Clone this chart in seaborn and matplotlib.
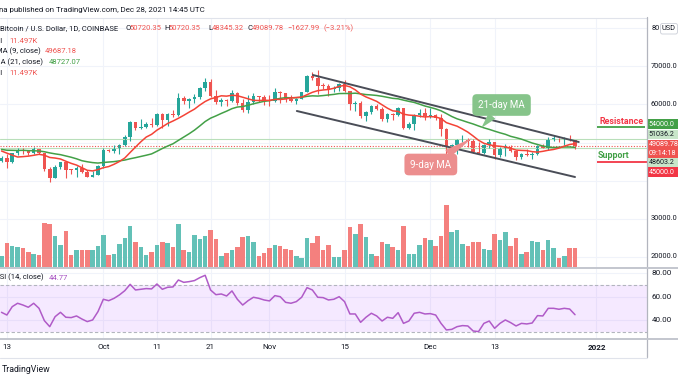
import matplotlib
matplotlib.use("Agg")
import matplotlib.pyplot as plt
from matplotlib.patches import Rectangle, FancyBboxPatch
import numpy as np
import seaborn as sns

sns.set_style("white")
plt.rcParams['font.family'] = ['Roboto', 'DejaVu Sans']

# BTC/USD daily candles, Sep 12 2021 .. Dec 28 2021 (prices in thousands of USD)
opens = [45.17, 46.03, 44.96, 47.11, 48.15, 47.76, 47.30, 48.31, 47.25, 43.01,
         40.72, 43.58, 44.89, 42.83, 42.71, 43.21, 42.17, 41.03, 41.52, 43.79,
         48.14, 47.66, 48.23, 49.25, 51.49, 55.34, 53.80, 53.97, 54.96, 54.68,
         57.49, 56.01, 57.37, 57.35, 61.67, 60.88, 61.53, 62.04, 64.29, 66.00,
         62.20, 60.70, 61.30, 60.86, 63.08, 60.33, 58.45, 60.60, 62.25, 61.85,
         61.30, 61.00, 63.22, 62.93, 61.42, 61.00, 61.50, 63.30, 67.55, 66.95,
         64.90, 64.80, 64.15, 64.40, 65.50, 63.60, 60.10, 60.35, 56.90, 58.10,
         59.70, 58.70, 56.30, 57.55, 57.15, 58.95, 53.70, 54.75, 57.30, 57.80,
         57.00, 57.23, 56.50, 53.60, 49.20, 49.40, 50.60, 50.65, 50.50, 47.60,
         47.15, 49.40, 50.10, 46.70, 48.35, 48.90, 47.65, 46.20, 46.85, 46.70,
         46.90, 48.95, 48.60, 50.85, 50.86, 50.80, 50.82, 50.72]
highs = [46.46, 46.88, 47.25, 48.48, 48.49, 48.15, 48.82, 48.37, 47.35, 43.63,
         44.00, 44.98, 45.00, 42.97, 43.93, 44.35, 42.79, 42.62, 44.10, 48.50,
         48.35, 49.23, 49.50, 51.90, 55.75, 55.34, 56.10, 55.48, 56.56, 57.82,
         57.68, 57.75, 58.55, 62.93, 62.35, 61.74, 62.67, 64.48, 67.00, 66.65,
         63.72, 61.74, 61.47, 63.70, 63.30, 61.50, 62.50, 62.95, 62.35, 62.40,
         62.45, 64.27, 63.52, 63.12, 62.59, 61.58, 63.35, 67.80, 68.53, 69.00,
         65.60, 65.47, 64.95, 65.55, 66.34, 63.60, 60.80, 60.95, 58.40, 59.85,
         60.05, 59.45, 57.85, 57.75, 59.40, 59.15, 55.30, 57.40, 58.85, 59.20,
         59.05, 57.40, 57.60, 53.90, 49.70, 50.90, 51.95, 51.20, 50.80, 50.10,
         49.50, 50.80, 50.20, 48.70, 49.50, 49.45, 48.00, 47.30, 48.35, 47.55,
         49.35, 49.60, 51.40, 51.85, 51.20, 51.40, 52.05, 50.72]
lows = [44.75, 43.37, 44.71, 46.72, 47.07, 46.77, 47.07, 46.87, 42.54, 39.60,
        40.58, 43.09, 40.75, 41.64, 40.80, 42.10, 40.90, 40.80, 41.42, 43.29,
        47.44, 47.13, 46.94, 49.07, 50.40, 53.37, 53.65, 53.71, 54.10, 54.42,
        53.88, 54.30, 56.83, 56.85, 60.15, 58.96, 60.40, 61.33, 63.50, 62.00,
        60.00, 59.70, 59.53, 60.66, 59.85, 58.00, 57.80, 60.20, 60.68, 59.96,
        59.50, 60.65, 60.40, 60.65, 60.72, 60.10, 61.35, 63.30, 66.35, 62.80,
        64.10, 62.30, 63.35, 63.60, 63.40, 58.60, 58.40, 56.50, 55.60, 57.45,
        58.50, 55.60, 55.35, 55.85, 57.00, 53.55, 53.65, 53.30, 56.70, 55.90,
        56.45, 55.85, 51.70, 42.00, 47.10, 47.00, 50.05, 48.70, 47.30, 46.90,
        46.90, 48.65, 45.70, 46.30, 46.55, 47.55, 45.50, 45.60, 46.45, 45.55,
        46.65, 48.45, 48.05, 50.45, 50.20, 49.45, 50.45, 48.35]
closes = [46.03, 44.96, 47.11, 48.15, 47.76, 47.30, 48.31, 47.25, 43.01, 40.72,
          43.58, 44.89, 42.83, 42.71, 43.21, 42.17, 41.03, 41.52, 43.79, 48.14,
          47.66, 48.23, 49.25, 51.49, 55.34, 53.80, 53.97, 54.96, 54.68, 57.49,
          56.01, 57.37, 57.35, 61.67, 60.88, 61.53, 62.04, 64.29, 66.00, 62.20,
          60.70, 61.30, 60.86, 63.08, 60.33, 58.45, 60.60, 62.25, 61.85, 61.30,
          61.00, 63.22, 62.93, 61.42, 61.00, 61.50, 63.30, 67.55, 66.95, 64.90,
          64.80, 64.15, 64.40, 65.50, 63.60, 60.10, 60.35, 56.90, 58.10, 59.70,
          58.70, 56.30, 57.55, 57.15, 58.95, 53.70, 54.75, 57.30, 57.80, 57.00,
          57.23, 56.50, 53.60, 49.20, 49.40, 50.60, 50.65, 50.50, 47.60, 47.15,
          49.40, 50.10, 46.70, 48.35, 48.90, 47.65, 46.20, 46.85, 46.70, 46.90,
          48.95, 48.60, 50.85, 50.86, 50.80, 50.82, 50.72, 49.09]
# volume in thousands of BTC
volume_k = [6.6, 14.8, 12.7, 12.3, 11.9, 9.0, 7.8, 7.4, 27.1, 26.7,
            19.3, 13.5, 22.2, 7.2, 10.3, 10.3, 10.7, 10.3, 12.7, 19.7,
            7.4, 8.2, 13.9, 17.6, 25.4, 15.6, 12.3, 7.4, 9.4, 13.5,
            15.2, 14.8, 12.3, 26.7, 10.3, 9.4, 19.7, 17.2, 18.9, 23.0,
            17.2, 7.0, 8.6, 10.7, 12.3, 18.5, 19.3, 15.6, 7.0, 8.6,
            11.9, 13.5, 13.1, 11.1, 10.7, 6.6, 5.7, 17.6, 14.8, 18.9,
            10.3, 13.5, 6.2, 6.2, 10.7, 24.6, 20.5, 26.3, 18.5, 7.8,
            7.0, 15.6, 13.9, 12.3, 10.7, 25.4, 8.2, 8.2, 13.5, 18.1,
            16.4, 13.1, 19.3, 38.2, 21.3, 22.6, 13.9, 13.1, 15.6, 15.6,
            11.1, 10.7, 20.5, 16.8, 21.3, 12.7, 18.1, 8.2, 9.4, 16.0,
            15.2, 10.7, 16.4, 11.5, 5.7, 7.0, 11.5, 11.497]
ma9 = [47.76, 47.20, 46.68, 46.18, 46.28, 46.41, 46.63, 46.89, 46.65, 46.06,
       45.91, 45.66, 45.07, 44.51, 44.06, 43.37, 42.68, 42.52, 42.86, 43.37,
       43.67, 44.27, 45.00, 45.92, 47.38, 48.80, 50.19, 51.43, 52.15, 53.25,
       54.11, 55.01, 55.66, 56.37, 57.15, 57.99, 58.78, 59.85, 60.79, 61.48,
       61.85, 62.29, 62.20, 62.44, 62.31, 61.91, 61.50, 61.09, 61.05, 61.11,
       61.08, 61.34, 61.33, 61.45, 61.73, 61.83, 61.95, 62.58, 63.21, 63.64,
       63.82, 63.95, 64.28, 64.78, 65.02, 64.66, 63.86, 62.74, 61.99, 61.42,
       60.82, 59.92, 59.03, 58.32, 58.19, 57.45, 57.21, 57.12, 56.91, 56.72,
       56.83, 56.71, 56.31, 55.23, 54.75, 54.29, 53.55, 52.74, 51.70, 50.58,
       49.79, 49.40, 49.12, 49.01, 48.82, 48.48, 48.01, 47.92, 47.87, 47.59,
       47.47, 47.68, 47.96, 48.17, 48.52, 49.04, 49.47, 49.69]
ma21 = [48.19, 47.97, 47.94, 47.90, 47.95, 47.86, 47.83, 47.76, 47.57, 47.26,
        47.01, 46.80, 46.46, 46.12, 45.71, 45.21, 44.93, 44.71, 44.59, 44.74,
        44.86, 44.97, 45.17, 45.38, 45.72, 46.01, 46.33, 46.65, 47.00, 47.69,
        48.42, 49.07, 49.67, 50.56, 51.43, 52.30, 53.25, 54.36, 55.52, 56.40,
        57.00, 57.65, 58.25, 58.91, 59.33, 59.47, 59.80, 60.19, 60.52, 60.84,
        61.00, 61.35, 61.61, 61.80, 61.77, 61.80, 61.89, 62.15, 62.28, 62.22,
        62.35, 62.51, 62.66, 62.88, 62.90, 62.89, 62.98, 62.81, 62.61, 62.51,
        62.38, 62.16, 61.89, 61.62, 61.50, 61.15, 60.83, 60.54, 60.08, 59.60,
        59.24, 58.84, 58.34, 57.62, 56.85, 56.23, 55.78, 55.31, 54.87, 54.35,
        53.86, 53.45, 52.99, 52.55, 52.16, 51.62, 51.27, 50.89, 50.38, 49.87,
        49.48, 49.07, 48.80, 48.67, 48.75, 48.82, 48.82, 48.73]
rsi14 = [46.8, 44.5, 51.6, 54.5, 53.0, 51.1, 54.5, 50.2, 39.7, 34.6,
         43.1, 46.8, 42.6, 42.3, 43.7, 41.1, 38.9, 40.3, 47.4, 57.9,
         56.7, 58.7, 61.6, 65.2, 70.6, 65.8, 66.4, 67.0, 66.7, 70.9,
         66.4, 68.1, 68.4, 74.3, 72.3, 72.9, 73.8, 76.3, 78.3, 65.8,
         61.8, 62.4, 60.7, 65.0, 57.9, 53.0, 56.7, 59.6, 58.7, 57.3,
         56.5, 61.0, 60.1, 55.3, 54.5, 55.9, 59.6, 67.8, 65.8, 59.6,
         59.3, 57.3, 57.9, 60.1, 55.9, 45.4, 45.4, 38.3, 42.6, 46.0,
         43.7, 39.4, 42.6, 41.7, 46.5, 37.4, 39.4, 46.0, 46.8, 45.4,
         45.7, 44.5, 37.4, 31.8, 32.3, 34.6, 35.5, 35.2, 30.9, 30.4,
         37.4, 39.4, 33.2, 37.4, 40.3, 38.0, 35.2, 37.4, 36.9, 37.7,
         44.0, 43.7, 50.2, 50.2, 49.4, 50.2, 49.6, 44.77]

# time axis (day index 0 = Sep 12)
tick_days = [1, 19, 29, 39, 50, 64, 80, 92, 111]
tick_labels = ['13', 'Oct', '11', '21', 'Nov', '15', 'Dec', '13', '2022']
grid_prices = [20000, 30000, 40000, 50000, 60000, 70000, 80000]
scale_prices = [20000, 30000, 60000, 70000]
top_scale_price = 80000
rsi_levels = [40, 60, 80]

# drawings
resistance = 54000.0
support = 45000.0
level_lines = [51036.2, 48603.2]
last_price = 49089.78
level_label_day = 111.1
upper_channel_days = [58.1, 107.7]
upper_channel_prices = [67760, 50130]
lower_channel_days = [55.1, 107.0]
lower_channel_prices = [58290, 40920]
ma21_note_box = (93.3, 59870)
ma21_note_tip = (89.5, 53800)
ma9_note_box = (80.1, 44210)
ma9_note_tip = (87.8, 51180)

DARK = '#131722'
UP = '#26a69a'
DOWN = '#ef5350'
GRID = '#f0f3fa'

days = np.arange(len(closes))
o = np.array(opens) * 1000
h = np.array(highs) * 1000
l = np.array(lows) * 1000
c = np.array(closes) * 1000
up = c >= o
candle_colors = np.where(up, UP, DOWN)
volume_colors = np.where(up, '#63c1b7', '#f4807e')

W, H = 678, 381


def rect(x0, y0, x1, y1):
    return [x0 / W, 1 - y1 / H, (x1 - x0) / W, (y1 - y0) / H]


fig = plt.figure(figsize=(6.78, 3.81), dpi=100)
fig.patch.set_facecolor('white')
axg = fig.add_axes(rect(0, 18, 647, 267))
axv = fig.add_axes(rect(0, 18, 647, 267))
ax = fig.add_axes(rect(0, 18, 647, 267))
axr = fig.add_axes(rect(0, 268, 647, 339))
ov = fig.add_axes([0, 0, 1, 1])

xlim = (-0.28, 120.43)
price_lim = (17237, 82763)
for a in (axg, axv, ax, axr):
    a.set_xlim(*xlim)
    for s in a.spines.values():
        s.set_visible(False)
    a.tick_params(length=0, labelleft=False, labelbottom=False)

# background grid
axg.set_ylim(*price_lim)
axg.set_xticks(tick_days)
axg.set_yticks(grid_prices)
axg.grid(True, color=GRID, lw=0.8)

# volume overlay
axv.patch.set_visible(False)
axv.set_ylim(0, 153.2)
axv.set_xticks([])
axv.set_yticks([])
axv.bar(days, volume_k, width=0.85, color=volume_colors, linewidth=0)

# candles + moving averages
ax.patch.set_visible(False)
ax.set_ylim(*price_lim)
ax.set_xticks([])
ax.set_yticks([])
for lv in level_lines:
    ax.axhline(lv, color='#b9dfba', lw=0.8)
ax.axhline(last_price, color=DOWN, lw=0.8, ls=(0, (1, 1.5)))
ax.vlines(days, l, h, colors=candle_colors, lw=0.8)
ax.bar(days, np.maximum(np.abs(c - o), 250), bottom=np.minimum(o, c),
       width=0.66, color=candle_colors, linewidth=0)
sns.lineplot(x=days, y=np.array(ma21) * 1000, ax=ax, color='#43a047', linewidth=1.1)
sns.lineplot(x=days, y=np.array(ma9) * 1000, ax=ax, color='#f44336', linewidth=1.1)
ax.plot(upper_channel_days, upper_channel_prices, color='#4a4d57', lw=1.4, solid_capstyle='round')
ax.plot(lower_channel_days, lower_channel_prices, color='#4a4d57', lw=1.4, solid_capstyle='round')
ax.hlines(resistance, level_label_day, 120.1, color='#43a047', lw=1.3)
ax.hlines(support, level_label_day, xlim[1], color='#f23645', lw=1.3)
ax.set_xlim(*xlim)

ax.annotate('21-day MA', xy=ma21_note_tip, xytext=ma21_note_box, ha='center', va='center',
            color='white', fontsize=7,
            bbox=dict(boxstyle='round,pad=0.6,rounding_size=0.45', fc='#86c48a', ec='none'),
            arrowprops=dict(arrowstyle='wedge,tail_width=0.9,shrink_factor=0.5',
                            fc='#86c48a', ec='none', shrinkA=0, shrinkB=0))
ax.annotate('9-day MA', xy=ma9_note_tip, xytext=ma9_note_box, ha='center', va='center',
            color='white', fontsize=7,
            bbox=dict(boxstyle='round,pad=0.6,rounding_size=0.45', fc='#ec8e8e', ec='none'),
            arrowprops=dict(arrowstyle='wedge,tail_width=0.9,shrink_factor=0.5',
                            fc='#ec8e8e', ec='none', shrinkA=0, shrinkB=0))

SCALE_SIZE = 5.3
for p in scale_prices:
    ax.text(650.5 / 647, p, f"{p:.1f}", transform=ax.get_yaxis_transform(),
            va='center', ha='left', fontsize=SCALE_SIZE, color=DARK, clip_on=False)
# only the first two digits of the top label show beside the USD button
ax.text(652 / 647, top_scale_price, str(top_scale_price)[:2], transform=ax.get_yaxis_transform(),
        va='center', ha='left', fontsize=SCALE_SIZE, color=DARK, clip_on=False)

# RSI pane
axr.set_ylim(24.1, 84.5)
axr.set_xticks(tick_days)
axr.set_yticks(rsi_levels)
axr.grid(True, color=GRID, lw=0.8)
axr.axhspan(30, 70, color='#9915ff', alpha=0.09, lw=0)
axr.axhline(70, color='#b2b5be', lw=0.8, ls=(0, (3, 2)))
axr.axhline(30, color='#b2b5be', lw=0.8, ls=(0, (3, 2)))
sns.lineplot(x=days, y=rsi14, ax=axr, color='#b05bc8', linewidth=1.1)
axr.set_xlim(*xlim)
axr.set_xticklabels(tick_labels)
axr.tick_params(axis='x', labelbottom=True, pad=3.6, labelsize=5.8, labelcolor=DARK)
axr.get_xticklabels()[-1].set_fontweight('bold')
for r in rsi_levels:
    axr.text(652 / 647, r, f"{r:.2f}", transform=axr.get_yaxis_transform(),
             va='center', ha='left', fontsize=5.8, color=DARK, clip_on=False)

# overlay: frame, legend texts, price labels
ov.set_xlim(0, W)
ov.set_ylim(H, 0)
ov.axis('off')
ov.plot([0, 647], [17.5, 17.5], color='#e0e3eb', lw=0.8)
ov.plot([647, 647], [17, 357], color='#b2b5be', lw=0.9)
ov.plot([0, W], [267.6, 267.6], color='#c3c6ce', lw=1.4)
ov.plot([0, W], [339.3, 339.3], color='#c3c6ce', lw=1.4)
ov.plot([0, 647], [357.5, 357.5], color='#e0e3eb', lw=0.8)


def txt(x, y, s, color=DARK, size=5.5, **kw):
    ov.text(x, y, s, color=color, fontsize=size, va='center', **kw)


txt(-1, 10, "na published on TradingView.com, Dec 28, 2021 14:45 UTC", size=5.7)
txt(118, 28, "Bitcoin / U.S. Dollar, 1D, COINBASE", ha='right')
for s, x, col in [("O", 125, DARK), ("50720.35", 129.5, DOWN), ("H", 164.5, DARK),
                  ("50720.35", 168.5, DOWN), ("L", 208, DARK), ("48345.32", 211.5, DOWN),
                  ("C", 247.5, DARK), ("49089.78", 252, DOWN), ("\u22121627.99", 287.5, DOWN),
                  ("(\u22123.21%)", 323.5, DOWN)]:
    txt(x, 28, s, color=col)
txt(3, 41, "Vol", ha='right')
txt(9, 41, "11.497K", color=DOWN)
txt(40.5, 51, "MA (9, close)", ha='right')
txt(45, 51, "49687.18", color=DOWN)
txt(43.5, 62, "MA (21, close)", ha='right')
txt(49, 62, "48727.07", color='#43a047')
txt(3, 73, "Vol", ha='right')
txt(9, 73, "11.497K", color=DOWN)
txt(43.5, 277.5, "RSI (14, close)", ha='right')
txt(49, 277.5, "44.77", color='#a64fc1')
txt(2, 369, "TradingView", size=6.3)

txt(599, 122, "Resistance", color='#f23645', size=6.4, fontweight='bold')
txt(598, 156, "Support", color='#43a047', size=6.4, fontweight='bold')

ov.add_patch(FancyBboxPatch((660.5, 23.5), 17, 10.5, boxstyle='round,pad=0,rounding_size=2',
                            fc='white', ec='#d1d4dc', lw=0.7))
txt(662, 28.8, "USD", size=5.3)

for y0, y1, fc, tc, lines in [(119.3, 129.3, '#43a047', 'white', ["54000.0"]),
                              (129.6, 139.2, '#c8e6c9', DARK, ["51036.2"]),
                              (140.0, 158.2, '#ef5350', 'white', ["49089.78", "09:14:18"]),
                              (158.3, 167.3, '#c8e6c9', DARK, ["48603.2"]),
                              (167.4, 177.4, '#f23645', 'white', ["45000.0"])]:
    ov.add_patch(Rectangle((647.8, y0), 31, y1 - y0, fc=fc, ec='none'))
    step = (y1 - y0) / len(lines)
    for k, s in enumerate(lines):
        txt(648.6, y0 + step * (k + 0.5), s, color=tc, size=5.1)

fig.savefig('out.png', dpi=100)
